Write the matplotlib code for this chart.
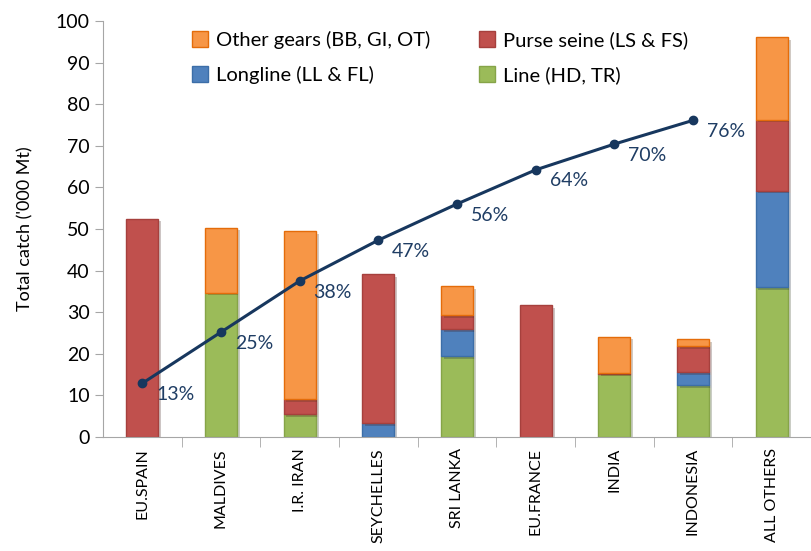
import numpy as np
import matplotlib.pyplot as plt
import matplotlib.patheffects as pe
from matplotlib.patches import Patch

plt.rcParams['font.family'] = ['Lato', 'DejaVu Sans']
plt.rcParams['font.size'] = 12

countries = ['EU.SPAIN', 'MALDIVES', 'I.R. IRAN', 'SEYCHELLES', 'SRI LANKA',
             'EU.FRANCE', 'INDIA', 'INDONESIA', 'ALL OTHERS']

# catch by gear ('000 Mt)
line_hd = [0.0, 34.7, 5.5, 0.0, 19.4, 0.0, 15.2, 12.4, 36.1]
longline = [0.0, 0.0, 0.0, 3.4, 6.6, 0.0, 0.0, 3.2, 23.1]
purse = [52.5, 0.0, 3.6, 35.8, 3.3, 31.6, 0.2, 6.3, 17.1]
other = [0.0, 15.6, 40.4, 0.0, 6.9, 0.0, 8.7, 1.6, 19.9]

# cumulative share (%), first eight fleets
cum_pct = [12.9, 25.2, 37.5, 47.3, 56.0, 64.2, 70.4, 76.1]

colors = {'other': '#F79646', 'purse': '#C0504D', 'long': '#4F81BD', 'line': '#9BBB59'}
edges = {'other': '#E46C0A', 'purse': '#A6403D', 'long': '#3C6EA8', 'line': '#86A448'}
names = {'other': 'Other gears (BB, GI, OT)', 'purse': 'Purse seine (LS & FS)',
         'long': 'Longline (LL & FL)', 'line': 'Line (HD, TR)'}

fig = plt.figure(figsize=(8.11, 5.51), dpi=100)
ax = fig.add_axes([0.127, 0.207, 0.873, 0.755])

x = np.arange(len(countries))
w = 0.41
shadow = [pe.SimplePatchShadow(offset=(2, -2), alpha=0.25), pe.Normal()]

bottom = np.zeros(len(countries))
for key, vals in [('line', line_hd), ('long', longline), ('purse', purse), ('other', other)]:
    vals = np.array(vals)
    b = ax.bar(x, vals, w, bottom=bottom, color=colors[key], edgecolor=edges[key],
               linewidth=1, zorder=2)
    for p in b:
        if p.get_height() > 0:
            p.set_path_effects(shadow)
        else:
            p.set_visible(False)
    bottom += vals

xl = x[:len(cum_pct)]
ax.plot(xl, cum_pct, color='#17375E', linewidth=2.2, marker='o', markersize=6, zorder=3)
for xi, v in zip(xl, cum_pct):
    ax.annotate('%d%%' % round(v), (xi, v), xytext=(10, -8), textcoords='offset points',
                color='#1F3D64', fontsize=14, va='center', ha='left', zorder=4)

ax.set_xlim(-0.5, 8.5)
ax.set_ylim(0, 100)
ax.set_yticks(np.arange(0, 101, 10))
ax.set_xticks(x)
ax.set_xticklabels(countries, rotation=90, fontsize=11.5)
ax.set_xticks(np.arange(0.5, 8.5, 1), minor=True)
ax.tick_params(axis='x', which='major', length=0, pad=8)
ax.tick_params(axis='x', which='minor', length=7, color='#A6A6A6', direction='out')
ax.tick_params(axis='y', length=6, color='#A6A6A6', direction='out', labelsize=14)
ax.set_ylabel("Total catch ('000 Mt)", fontsize=13, labelpad=16)
for s in ['top', 'right']:
    ax.spines[s].set_visible(False)
for s in ['left', 'bottom']:
    ax.spines[s].set_color('#A6A6A6')

order = ['other', 'long', 'purse', 'line']
handles = [Patch(facecolor=colors[k], edgecolor=edges[k]) for k in order]
ax.legend(handles, [names[k] for k in order], ncol=2, frameon=False, loc='upper left',
          bbox_to_anchor=(0.1, 1.02), fontsize=14.5, handlelength=0.8, handleheight=0.8,
          handletextpad=0.4, columnspacing=2.4, labelspacing=0.85)

fig.savefig('out.png', dpi=100)
